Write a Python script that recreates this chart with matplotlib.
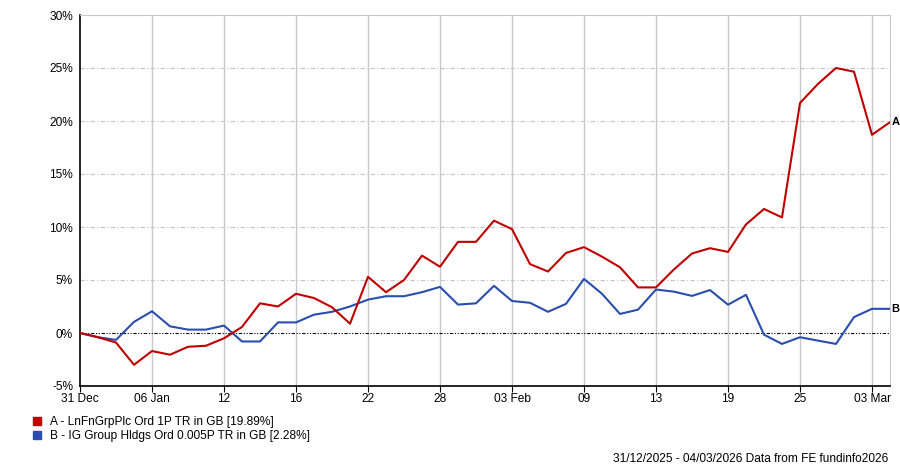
import matplotlib
matplotlib.use("Agg")
import numpy as np
import matplotlib.pyplot as plt
from matplotlib.patches import Patch

plt.rcParams['font.family'] = ['Liberation Sans', 'DejaVu Sans']

# trading days 31 Dec 2025 .. 04 Mar 2026 (46 points), cumulative total return in %
tick_labels = ['31 Dec', '06 Jan', '12', '16', '22', '28', '03 Feb',
               '09', '13', '19', '25', '03 Mar']
red = [0, -0.4, -0.9, -3.0, -1.7, -2.05, -1.3, -1.2, -0.5, 0.57, 2.8, 2.5,
       3.7, 3.3, 2.43, 0.88, 5.3, 3.85, 5.0, 7.3, 6.25, 8.6, 8.6, 10.6,
       9.8, 6.5, 5.8, 7.55, 8.1, 7.2, 6.2, 4.3, 4.3, 6.0, 7.5, 8.0,
       7.65, 10.24, 11.7, 10.9, 21.7, 23.5, 25.0, 24.65, 18.7, 19.89]
blue = [0, -0.4, -0.65, 1.05, 2.05, 0.63, 0.32, 0.32, 0.7, -0.8, -0.8, 1.0,
        1.0, 1.73, 2.0, 2.5, 3.15, 3.47, 3.47, 3.85, 4.35, 2.68, 2.8, 4.45,
        3.02, 2.85, 2.0, 2.75, 5.1, 3.7, 1.8, 2.2, 4.1, 3.9, 3.5, 4.05,
        2.67, 3.6, -0.16, -1.03, -0.4, -0.72, -1.03, 1.5, 2.28, 2.28]
names = ['A - LnFnGrpPlc Ord 1P TR in GB [19.89%]',
         'B - IG Group Hldgs Ord 0.005P TR in GB [2.28%]']
red_c = '#c00000'
blue_c = '#2a4eb0'
fs = 8.6

x = np.arange(len(red))

fig = plt.figure(figsize=(9, 4.67), dpi=100)
ax = fig.add_axes([80/900, 1-386/467, 810/900, 371/467])

ax.set_xlim(0, 45)
ax.set_ylim(-5, 30)
xt = np.arange(0, 45, 4)
ax.set_xticks(xt)
ax.set_xticklabels(tick_labels)
yt = np.arange(-5, 31, 5)
ax.set_yticks(yt)
ax.set_yticklabels(['%d%%' % v for v in yt])
ax.tick_params(axis='y', length=0, pad=5, labelsize=fs)
ax.tick_params(axis='x', length=4, width=0.8, pad=1, labelsize=fs, direction='out')

for v in xt[1:]:
    ax.axvline(v, color='#c8c8c8', lw=1, zorder=0)
for v in yt[1:-1]:
    if v != 0:
        ax.axhline(v, color='#c4c4c4', lw=0.8, ls=(0, (4, 2, 1, 2)), zorder=0)
ax.axhline(0, color='black', lw=0.8, ls=(0, (3, 1.5, 1, 1.5, 1, 1.5)), zorder=1)

for s in ['top', 'right']:
    ax.spines[s].set_color('#c8c8c8')
for s in ['left', 'bottom']:
    ax.spines[s].set_color('black')
    ax.spines[s].set_linewidth(1.2)

ax.plot(x, blue, color=blue_c, lw=1.5, zorder=3)
ax.plot(x, red, color=red_c, lw=1.5, zorder=4)

ax.annotate('A', (x[-1], red[-1]), xytext=(1, 0), textcoords='offset points',
            va='center', ha='left', fontsize=8, fontweight='bold',
            annotation_clip=False)
ax.annotate('B', (x[-1], blue[-1]), xytext=(1, 0), textcoords='offset points',
            va='center', ha='left', fontsize=8, fontweight='bold',
            annotation_clip=False)

handles = [Patch(color=red_c), Patch(color=blue_c)]
fig.legend(handles, names, loc='upper left', bbox_to_anchor=(33/900, 1-416/467),
           frameon=False, fontsize=fs, handlelength=0.7, handleheight=0.7,
           handletextpad=0.75, labelspacing=0.2, borderaxespad=0, borderpad=0)

fig.text(888/900, 1-459/467, '31/12/2025 - 04/03/2026 Data from FE fundinfo2026',
         ha='right', va='center', fontsize=fs)

fig.savefig('out.png', dpi=100)
